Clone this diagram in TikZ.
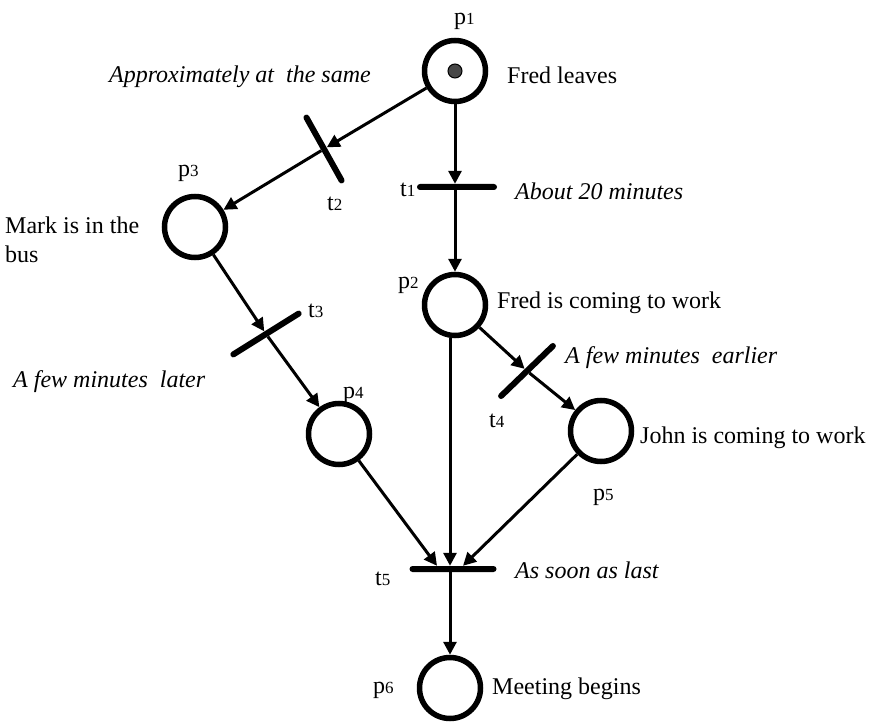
\documentclass[tikz,border=0pt]{standalone}
\usepackage{fontspec}
\setmainfont{Liberation Serif}[ItalicFont={Liberation Serif Italic}]
\usetikzlibrary{arrows.meta,calc}
\newcommand{\pnsub}[1]{{\fontsize{17}{17}\selectfont #1}}
\begin{document}
\begin{tikzpicture}[x=1pt,y=-1pt,
 place/.style={circle,draw=black,line width=5.5pt,minimum size=61pt,inner sep=0pt},
 tbar/.style={rectangle,fill=black,minimum height=6pt,inner sep=0pt,rounded corners=3pt},
 arc/.style={line width=3pt,-{Triangle[length=13pt,width=13pt]}},
 lbl/.style={font=\fontsize{24}{29}\selectfont,inner sep=0pt},
 ilbl/.style={inner sep=0pt,font=\fontsize{24}{29}\selectfont\itshape},
 token/.style={circle,draw=black,fill=black!72,line width=1pt,minimum size=14pt,inner sep=0pt}]
\useasboundingbox (0,0) rectangle (870,722);
% places
\node[place] (p1) at (455,71) {};
\node[token] (tok) at (455,71) {};
\node[place] (p2) at (455,305) {};
\node[place] (p3) at (195,227) {};
\node[place] (p4) at (339,434) {};
\node[place] (p5) at (601,431) {};
\node[place] (p6) at (450,688) {};
% transitions
\node[tbar,minimum width=80pt] (t1) at (457,187) {};
\node[tbar,minimum width=78pt,rotate=-60.8] (t2) at (324,149) {};
\node[tbar,minimum width=83pt,rotate=32] (t3) at (266,334) {};
\node[tbar,minimum width=78pt,rotate=44] (t4) at (527,371) {};
\node[tbar,minimum width=87pt] (t5) at (453,569) {};
% arcs
\draw[arc] (p1) -- (t2);
\draw[arc] (t2) -- (p3);
\draw[arc] (p1) -- (p1 |- t1.north);
\draw[arc] (p1 |- t1.south) -- (p2);
\draw[arc] (p3) -- (t3);
\draw[arc] (t3) -- (p4);
\draw[arc] (p2) -- (t4);
\draw[arc] (t4) -- (p5);
\draw[arc] (p4) -- ($(t5.north)+(-16,0)$);
\draw[arc] ([xshift=-5pt]p2.south) -- ([xshift=-5pt]p2.south |- t5.north);
\draw[arc] (p5) -- ($(t5.north)+(10,0)$);
\draw[arc] (p6 |- t5.south) -- (p6);
% labels
\node[lbl,anchor=base west] (p1l) at (454,25) {p\pnsub{1}};
\node[lbl,anchor=base west] (fred) at (507,84) {Fred leaves};
\node[ilbl,anchor=base east] (approx) at (371,83) {Approximately at~ the same};
\node[lbl,anchor=base west] (p3l) at (178,177) {p\pnsub{3}};
\node[lbl,anchor=base west] (t2l) at (327,211) {t\pnsub{2}};
\node[lbl,anchor=base west] (t1l) at (400,197) {t\pnsub{1}};
\node[ilbl,anchor=base west] (about) at (515,200) {About 20 minutes};
\node[lbl,anchor=north west,align=left] (mark) at (5,217) {Mark is in the\\bus};
\node[lbl,anchor=base west] (p2l) at (398,288) {p\pnsub{2}};
\node[lbl,anchor=base west] (fredw) at (497,308) {Fred is coming to work};
\node[lbl,anchor=base west] (t3l) at (308,317) {t\pnsub{3}};
\node[ilbl,anchor=base west] (later) at (13,387) {A few minutes~ later};
\node[ilbl,anchor=base west] (earlier) at (565,363) {A few minutes~ earlier};
\node[lbl,anchor=base west] (t4l) at (489,427) {t\pnsub{4}};
\node[lbl,anchor=base west] (p4l) at (343,398) {p\pnsub{4}};
\node[lbl,anchor=base west] (john) at (640,443) {John is coming to work};
\node[lbl,anchor=base west] (p5l) at (593,500) {p\pnsub{5}};
\node[lbl,anchor=base west] (t5l) at (375,585) {t\pnsub{5}};
\node[ilbl,anchor=base west] (soon) at (515,578) {As soon as last};
\node[lbl,anchor=base west] (p6l) at (373,693) {p\pnsub{6}};
\node[lbl,anchor=base west] (meet) at (492,694) {Meeting begins};
\end{tikzpicture}
\end{document}
